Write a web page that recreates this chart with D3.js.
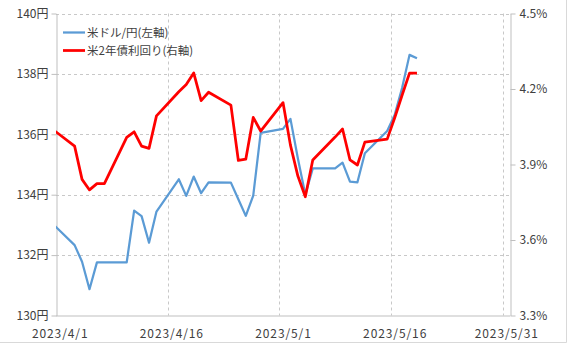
<!DOCTYPE html>
<html lang="ja">
<head>
<meta charset="utf-8">
<title>米ドル/円と米2年債利回り</title>
<script src="https://d3js.org/d3.v7.min.js"></script>
<style>
  html, body { margin: 0; padding: 0; background: #fff; }
  svg text { font-family: "Noto Sans CJK JP", "Noto Sans", sans-serif; fill: #404040; }
</style>
</head>
<body>
<script>
// data
var dates = ["2023/3/31","2023/4/3","2023/4/4","2023/4/5","2023/4/6","2023/4/7",
  "2023/4/10","2023/4/11","2023/4/12","2023/4/13","2023/4/14",
  "2023/4/17","2023/4/18","2023/4/19","2023/4/20","2023/4/21",
  "2023/4/24","2023/4/25","2023/4/26","2023/4/27","2023/4/28",
  "2023/5/1","2023/5/2","2023/5/3","2023/5/4","2023/5/5",
  "2023/5/8","2023/5/9","2023/5/10","2023/5/11","2023/5/12",
  "2023/5/15","2023/5/16","2023/5/17","2023/5/18","2023/5/19"];

var usdJpy = [133.05, 132.33, 131.78, 130.87, 131.76, 131.76,
  131.76, 133.47, 133.29, 132.41, 133.44,
  134.51, 133.96, 134.60, 134.05, 134.41,
  134.40, 133.85, 133.30, 133.97, 136.05,
  136.18, 136.51, 135.20, 134.00, 134.87,
  134.87, 135.06, 134.43, 134.41, 135.37,
  136.11, 136.64, 137.53, 138.63, 138.52];

var us2y = [4.041, 3.973, 3.841, 3.799, 3.824, 3.824,
  4.008, 4.030, 3.973, 3.964, 4.093,
  4.189, 4.218, 4.264, 4.154, 4.187,
  4.136, 3.916, 3.921, 4.087, 4.033,
  4.146, 3.977, 3.854, 3.772, 3.918,
  4.009, 4.041, 3.918, 3.898, 3.989,
  4.001, 4.085, 4.175, 4.263, 4.263];

var xTickDates = ["2023/4/1","2023/4/16","2023/5/1","2023/5/16","2023/5/31"];
var leftTicks = [130, 132, 134, 136, 138, 140];
var rightTicks = [3.3, 3.6, 3.9, 4.2, 4.5];
var seriesNames = ["米ドル/円(左軸)", "米2年債利回り(右軸)"];
var seriesColors = ["#5b9bd5", "#ff0000"];

var w = 568, h = 344;
var margin = {top: 13.5, right: 58, bottom: 28.5, left: 56};

var parse = d3.timeParse("%Y/%m/%d");
var fmt = d3.timeFormat("%Y/%-m/%-d");

var svg = d3.select("body").append("svg")
    .attr("width", w)
    .attr("height", h);

// x: each day is a slot, points sit in the middle of the slot
var x = d3.scaleTime()
    .domain([parse("2023/4/1"), parse("2023/6/1")])
    .range([margin.left, w - margin.right]);
var mid = function(d) { return x(d3.timeHour.offset(d, 12)); };

var yL = d3.scaleLinear().domain([130, 140]).range([h - margin.bottom, margin.top]);
var yR = d3.scaleLinear().domain([3.3, 4.5]).range([h - margin.bottom, margin.top]);

var x0 = margin.left, x1 = w - margin.right;
var y0 = h - margin.bottom, y1 = margin.top;

// outer frame (right and bottom edges only visible)
svg.append("line").attr("x1", 566.5).attr("x2", 566.5).attr("y1", 0).attr("y2", 342.5)
    .attr("stroke", "#d9d9d9");
svg.append("line").attr("x1", 0).attr("x2", 566.5).attr("y1", 342.5).attr("y2", 342.5)
    .attr("stroke", "#d9d9d9");

// horizontal gridlines
svg.append("g")
  .selectAll("line")
  .data(leftTicks.slice(1))
  .join("line")
    .attr("x1", x0).attr("x2", x1)
    .attr("y1", d => Math.round(yL(d)) + 0.5)
    .attr("y2", d => Math.round(yL(d)) + 0.5)
    .attr("stroke", "#c8c8c8")
    .attr("stroke-dasharray", "3,3");

// vertical gridlines on the day boundaries
svg.append("g")
  .selectAll("line")
  .data(xTickDates.slice(1).map(parse))
  .join("line")
    .attr("x1", d => Math.round(x(d)) + 0.5)
    .attr("x2", d => Math.round(x(d)) + 0.5)
    .attr("y1", y1).attr("y2", y0)
    .attr("stroke", "#c8c8c8")
    .attr("stroke-dasharray", "3,3");

// axes
var axL = svg.append("g")
    .attr("transform", "translate(" + (x0 + 0.5) + ",0)")
    .call(d3.axisLeft(yL).tickValues(leftTicks).tickFormat(d => d + "円")
      .tickSize(5).tickPadding(3).tickSizeOuter(0));

var axR = svg.append("g")
    .attr("transform", "translate(" + (x1 + 0.5) + ",0)")
    .call(d3.axisRight(yR).tickValues(rightTicks).tickFormat(d => d.toFixed(1) + "%")
      .tickSize(5).tickPadding(4).tickSizeOuter(0));

var axB = svg.append("g")
    .attr("transform", "translate(0," + (y0 + 0.5) + ")")
    .call(d3.axisBottom(x).tickValues(xTickDates.map(d => d3.timeHour.offset(parse(d), 12)))
      .tickFormat(fmt).tickSize(0).tickPadding(13).tickSizeOuter(0));
axB.selectAll("line").remove();
axB.select(".domain").attr("d", "M" + x0 + ",0H" + x1);

[axL, axR, axB].forEach(function(a) {
  a.select(".domain").attr("stroke", "#bfbfbf");
  a.selectAll(".tick line").attr("stroke", "#bfbfbf");
  a.selectAll("text").style("font-size", "12px").attr("fill", "#404040");
});
axB.selectAll("text").style("letter-spacing", "0.9px");

// lines
svg.append("clipPath").attr("id", "plot")
  .append("rect")
    .attr("x", x0).attr("y", 0)
    .attr("width", x1 - x0).attr("height", h);

var pts = dates.map(parse);

var lineL = d3.line()
    .x((d, i) => mid(pts[i]))
    .y(d => yL(d));
var lineR = d3.line()
    .x((d, i) => mid(pts[i]))
    .y(d => yR(d));

var plot = svg.append("g").attr("clip-path", "url(#plot)");

plot.append("path")
    .datum(usdJpy)
    .attr("d", lineL)
    .attr("fill", "none")
    .attr("stroke", seriesColors[0])
    .attr("stroke-width", 2.25)
    .attr("stroke-linejoin", "round");

plot.append("path")
    .datum(us2y)
    .attr("d", lineR)
    .attr("fill", "none")
    .attr("stroke", seriesColors[1])
    .attr("stroke-width", 2.75)
    .attr("stroke-linejoin", "round");

// legend
var legend = svg.append("g")
  .selectAll("g")
  .data(seriesNames)
  .join("g")
    .attr("transform", (d, i) => "translate(63," + (32.5 + i * 18) + ")");

legend.append("line")
    .attr("x1", 0).attr("x2", 22)
    .attr("stroke", (d, i) => seriesColors[i])
    .attr("stroke-width", (d, i) => i ? 2.75 : 2.25);

legend.append("text")
    .attr("x", 24)
    .attr("dy", "0.35em")
    .style("font-size", "11.5px")
    .text(d => d);
</script>
</body>
</html>
